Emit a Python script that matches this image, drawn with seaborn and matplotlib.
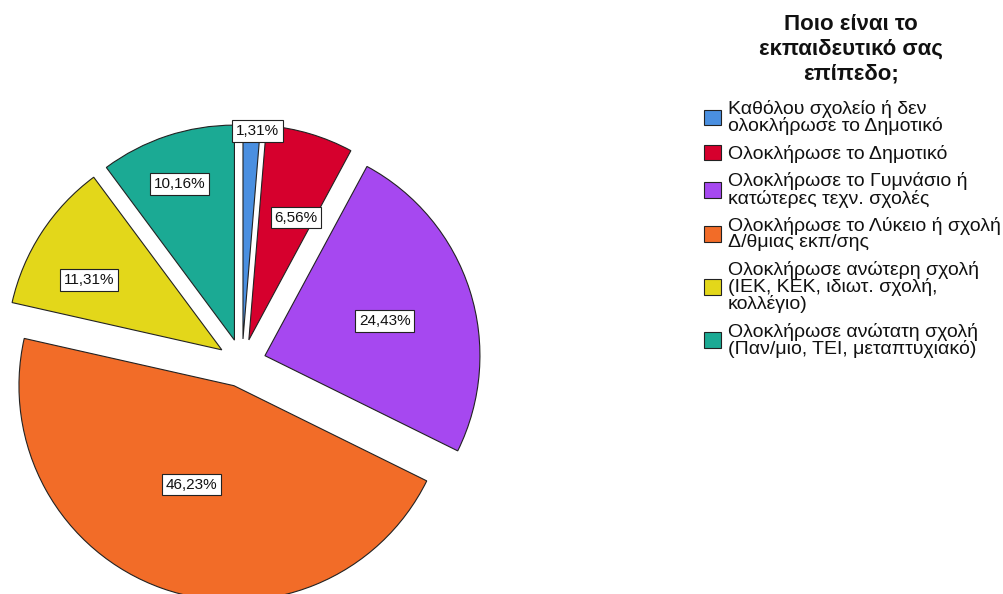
import numpy as np
import matplotlib
matplotlib.use('Agg')
import matplotlib.pyplot as plt
import matplotlib.patches as mpatches
import seaborn as sns

# Data
categories = [
    'Καθόλου σχολείο ή δεν\nολοκλήρωσε το Δημοτικό',
    'Ολοκλήρωσε το Δημοτικό',
    'Ολοκλήρωσε το Γυμνάσιο ή\nκατώτερες τεχν. σχολές',
    'Ολοκλήρωσε το Λύκειο ή σχολή\nΔ/θμιας εκπ/σης',
    'Ολοκλήρωσε ανώτερη σχολή\n(ΙΕΚ, ΚΕΚ, ιδιωτ. σχολή,\nκολλέγιο)',
    'Ολοκλήρωσε ανώτατη σχολή\n(Παν/μιο, ΤΕΙ, μεταπτυχιακό)',
]
percents = [1.31, 6.56, 24.43, 46.23, 11.31, 10.16]
pct_labels = ['1,31%', '6,56%', '24,43%', '46,23%', '11,31%', '10,16%']
legend_title = 'Ποιο είναι το\nεκπαιδευτικό σας\nεπίπεδο;'

# Styling
colors = ['#4a8fe0', '#d6002d', '#a648f0', '#f26c28', '#e3d71a', '#1baa94']
label_radius = [0.97, 0.61, 0.58, 0.50, 0.70, 0.77]
label_turn = [1.7, 4.6, 1.4, 3.7, -5.3, -1.0]  # degrees, clockwise

sns.set_theme(style='white')
plt.rcParams['font.family'] = ['Liberation Sans', 'DejaVu Sans']

fig = plt.figure(figsize=(10.04, 5.94), dpi=100)
# axes sized in pixels so the pie center sits at (242, 363) px with radius 215 px
ax = fig.add_axes([0, -11 / 594, 484 / 1004, 484 / 594])

wedges, _ = ax.pie(percents, colors=colors, startangle=90, counterclock=False,
                   explode=[0.112] * len(percents), radius=1,
                   wedgeprops=dict(edgecolor='#222222', linewidth=0.8))
lim = 242 / 215
ax.set_xlim(-lim, lim)
ax.set_ylim(-lim, lim)
ax.set_aspect('equal')
ax.axis('off')

for w, txt, rf, turn in zip(wedges, pct_labels, label_radius, label_turn):
    mid = np.deg2rad((w.theta1 + w.theta2) / 2 - turn)
    cx, cy = w.center
    x = cx + rf * w.r * np.cos(mid)
    y = cy + rf * w.r * np.sin(mid)
    ax.text(x, y, txt, ha='center', va='center', fontsize=11, color='#111111',
            bbox=dict(boxstyle='square,pad=0.25', facecolor='white',
                      edgecolor='#222222', linewidth=0.8), zorder=5)

# legend title drawn separately so the gap above the entries can be set
fig.text(851 / 1004, 1 - 14 / 594, legend_title, ha='center', va='top',
         fontsize=16, fontweight='bold', color='#111111',
         multialignment='center', linespacing=1.22)

handles = [mpatches.Patch(facecolor=c, edgecolor='#222222', linewidth=0.8)
           for c in colors]
leg = fig.legend(handles, categories,
                 loc='upper left', bbox_to_anchor=(704 / 1004, 1 - 100 / 594),
                 frameon=False, fontsize=14,
                 handlelength=0.85, handleheight=0.85, handletextpad=0.36,
                 labelspacing=0.48, borderaxespad=0, borderpad=0)
for t in leg.get_texts():
    t.set_linespacing(0.95)
    t.set_color('#111111')

fig.savefig('out.png', dpi=100, facecolor='white')
